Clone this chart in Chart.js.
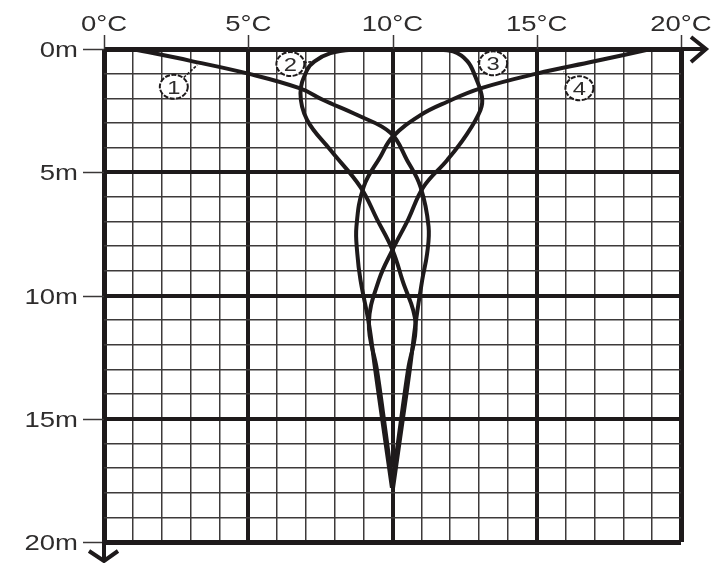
<!DOCTYPE html>
<html>
<head>
<meta charset="utf-8">
<script src="https://cdn.jsdelivr.net/npm/chart.js@4/dist/chart.umd.min.js"></script>
<style>
  html, body { margin: 0; background: #fff; }
  #wrap { width: 721px; height: 563px; }
</style>
</head>
<body>
<div id="wrap"><canvas id="profile" width="721" height="563"></canvas></div>
<script>
// axis ticks
const tempTicks = [0, 5, 10, 15, 20];
const tempTickLabels = ['0°C', '5°C', '10°C', '15°C', '20°C'];
const depthTicks = [0, 5, 10, 15, 20];
const depthTickLabels = ['0m', '5m', '10m', '15m', '20m'];

// temperature profiles (°C vs depth m)
const curve1Temp  = [1, 3.0, 5.0, 6.8, 7.6, 8.78, 9.93, 10.5, 10.97, 11.25, 11.2, 11.03, 10.8, 10.6, 10.36, 10.02];
const curve1Depth = [0, 0.48, 1.0, 1.6, 2.07, 2.68, 3.4, 4.5, 5.59, 7.2, 8.3, 9.37, 11.13, 13.0, 15.0, 17.8];

const curve2Temp  = [10, 8.6, 7.85, 7.3, 7.04, 6.81, 7.04, 7.85, 8.89, 9.46, 10.0, 10.34, 10.8, 10.54, 10.3, 9.98];
const curve2Depth = [0, 0.03, 0.17, 0.5, 0.85, 1.8, 2.88, 4.1, 5.6, 6.9, 8.15, 9.37, 11.13, 13.0, 15.0, 17.8];

const curve3Temp  = [10, 11.4, 12.1, 12.6, 12.87, 13.1, 13.05, 12.55, 11.9, 11.07, 10.55, 10.0, 9.53, 9.18, 9.46, 9.7, 10.02];
const curve3Depth = [0, 0.03, 0.1, 0.5, 1.12, 1.93, 2.47, 3.5, 4.5, 5.6, 6.9, 8.15, 9.37, 11.13, 13.0, 15.0, 17.8];

const curve4Temp  = [18.95, 17.0, 15.0, 13.05, 11.9, 10.97, 10.0, 9.58, 9.0, 8.75, 8.78, 8.89, 9.18, 9.4, 9.64, 9.98];
const curve4Depth = [0, 0.5, 1.0, 1.6, 2.14, 2.68, 3.57, 4.37, 5.59, 7.2, 8.3, 9.37, 11.13, 13.0, 15.0, 17.8];

// circled curve numbers and where their leader lines touch the curve
const curveNames  = ['1', '2', '3', '4'];
const nameTemp    = [2.42, 6.46, 13.49, 16.48];
const nameDepth   = [1.53, 0.61, 0.58, 1.59];
const leaderTemp  = [3.23, 7.26, 12.94, 15.93];
const leaderDepth = [0.65, 0.51, 0.52, 0.92];

const INK = '#1e1a1b';
const TEXT = '#2e2c2c';

function toPoints(temps, depths) {
    return temps.map((t, i) => ({ x: t, y: depths[i] }));
}

function stretchedText(ctx, text, x, y, align) {
    // the source lettering is wide, so stretch it out a little
    ctx.save();
    ctx.translate(x, y);
    ctx.scale(1.25, 1);
    ctx.textAlign = align;
    ctx.fillText(text, 0, 0);
    ctx.restore();
}

const decorPlugin = {
    id: 'decor',
    afterDraw(chart) {
        const ctx = chart.ctx;
        const xs = chart.scales.x;
        const ys = chart.scales.y;
        const area = chart.chartArea;

        ctx.save();
        ctx.strokeStyle = '#3a3737';
        ctx.lineWidth = 1.5;

        // tick marks
        tempTicks.forEach(v => {
            const x = Math.round(xs.getPixelForValue(v)) + 0.5;
            ctx.beginPath();
            ctx.moveTo(x, area.top - 14);
            ctx.lineTo(x, area.top);
            ctx.stroke();
        });
        depthTicks.forEach(v => {
            const y = Math.round(ys.getPixelForValue(v)) + 0.5;
            ctx.beginPath();
            ctx.moveTo(area.left - 21, y);
            ctx.lineTo(area.left, y);
            ctx.stroke();
        });

        // tick labels
        ctx.fillStyle = TEXT;
        ctx.font = '22px "Liberation Sans", Arial, sans-serif';
        ctx.textBaseline = 'alphabetic';
        tempTicks.forEach((v, i) => {
            stretchedText(ctx, tempTickLabels[i], xs.getPixelForValue(v), area.top - 18, 'center');
        });
        depthTicks.forEach((v, i) => {
            stretchedText(ctx, depthTickLabels[i], area.left - 26, ys.getPixelForValue(v) + 8, 'right');
        });

        // axis arrows
        ctx.strokeStyle = INK;
        ctx.lineWidth = 4;
        ctx.lineCap = 'butt';
        ctx.lineJoin = 'miter';
        ctx.beginPath();
        ctx.moveTo(area.right, area.top);
        ctx.lineTo(area.right + 25, area.top);
        ctx.stroke();
        ctx.beginPath();
        ctx.moveTo(area.right + 10, area.top - 12);
        ctx.lineTo(area.right + 25, area.top);
        ctx.lineTo(area.right + 10, area.top + 13);
        ctx.stroke();

        ctx.beginPath();
        ctx.moveTo(area.left, area.bottom);
        ctx.lineTo(area.left, area.bottom + 19);
        ctx.stroke();
        ctx.beginPath();
        ctx.moveTo(area.left - 15, area.bottom + 9);
        ctx.lineTo(area.left, area.bottom + 19);
        ctx.lineTo(area.left + 14, area.bottom + 9);
        ctx.stroke();

        // circled curve numbers
        curveNames.forEach((name, i) => {
            const cx = xs.getPixelForValue(nameTemp[i]);
            const cy = ys.getPixelForValue(nameDepth[i]);
            const lx = xs.getPixelForValue(leaderTemp[i]);
            const ly = ys.getPixelForValue(leaderDepth[i]);

            ctx.strokeStyle = '#1e1a1b';
            ctx.lineWidth = 1.6;
            ctx.setLineDash([3, 1.5]);
            ctx.beginPath();
            ctx.moveTo(cx, cy);
            ctx.lineTo(lx, ly);
            ctx.stroke();

            ctx.beginPath();
            ctx.ellipse(cx, cy, 14, 12, 0, 0, Math.PI * 2);
            ctx.fillStyle = '#fff';
            ctx.fill();
            ctx.lineWidth = 2;
            ctx.setLineDash([5, 1.5]);
            ctx.stroke();
            ctx.setLineDash([]);

            ctx.fillStyle = TEXT;
            ctx.font = '19px "Liberation Sans", Arial, sans-serif';
            stretchedText(ctx, name, cx, cy + 7, 'center');
        });
        ctx.restore();
    }
};

function gridWidth(c) {
    const v = c.tick.value;
    if (v === 0 || v === 20) return 5;
    return v % 5 === 0 ? 4 : 1.5;
}
function gridColor(c) {
    return c.tick.value % 5 === 0 ? INK : '#3d3a3a';
}

const curves = [
    toPoints(curve1Temp, curve1Depth),
    toPoints(curve2Temp, curve2Depth),
    toPoints(curve3Temp, curve3Depth),
    toPoints(curve4Temp, curve4Depth)
];

new Chart(document.getElementById('profile'), {
    type: 'scatter',
    data: {
        datasets: curves.map((pts, i) => ({
            label: curveNames[i],
            data: pts,
            showLine: true,
            borderColor: INK,
            borderWidth: 4,
            pointRadius: 0,
            tension: 0.4,
            clip: 6
        }))
    },
    options: {
        responsive: false,
        animation: false,
        events: [],
        layout: { padding: { left: 104, top: 49, right: 40, bottom: 21 } },
        plugins: {
            legend: { display: false },
            tooltip: { enabled: false }
        },
        scales: {
            x: {
                type: 'linear',
                position: 'top',
                min: 0,
                max: 20,
                ticks: { stepSize: 1, display: false },
                grid: { lineWidth: gridWidth, color: gridColor, drawTicks: false },
                border: { display: false }
            },
            y: {
                type: 'linear',
                reverse: true,
                min: 0,
                max: 20,
                ticks: { stepSize: 1, display: false },
                grid: { lineWidth: gridWidth, color: gridColor, drawTicks: false },
                border: { display: false }
            }
        }
    },
    plugins: [decorPlugin]
});
</script>
</body>
</html>
